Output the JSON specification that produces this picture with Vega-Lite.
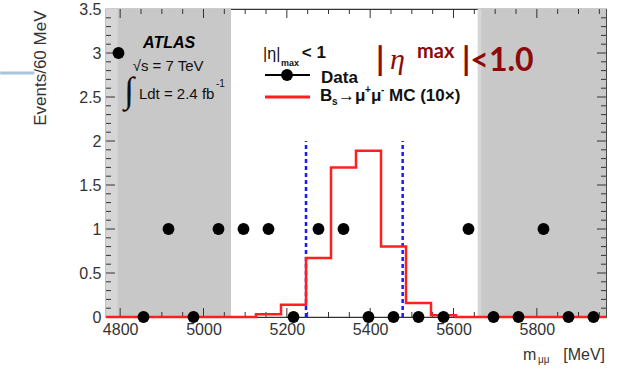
{
  "$schema": "https://vega.github.io/schema/vega-lite/v6.json",
  "width": 500,
  "height": 308,
  "autosize": {"type": "none"},
  "padding": {"left": 106, "top": 9, "right": 13, "bottom": 55},
  "background": "white",
  "config": {
    "view": {"stroke": "#333333", "strokeWidth": 1.2},
    "font": "Liberation Sans",
    "axis": {"grid": false, "domain": false, "ticks": false, "labelColor": "#333333"},
    "text": {"align": "left", "baseline": "alphabetic"}
  },
  "datasets": {
    "sidebands": [{"lo": 4766, "hi": 5066}, {"lo": 5666, "hi": 5966}],
    "edges": [{"lo": 4766, "hi": 4794}, {"lo": 5658, "hi": 5667}],
    "xTickMajor": [{"m": 4800}, {"m": 5000}, {"m": 5200}, {"m": 5400}, {"m": 5600}, {"m": 5800}],
    "xTickMinor": [
      {"m": 4850}, {"m": 4900}, {"m": 4950}, {"m": 5050}, {"m": 5100}, {"m": 5150}, {"m": 5250}, {"m": 5300},
      {"m": 5350}, {"m": 5450}, {"m": 5500}, {"m": 5550}, {"m": 5650}, {"m": 5700}, {"m": 5750}, {"m": 5850},
      {"m": 5900}, {"m": 5950}
    ],
    "yTickMajor": [{"v": 0.5}, {"v": 1}, {"v": 1.5}, {"v": 2}, {"v": 2.5}, {"v": 3}],
    "yTickMinor": [
      {"v": 0.1}, {"v": 0.2}, {"v": 0.3}, {"v": 0.4}, {"v": 0.6}, {"v": 0.7}, {"v": 0.8}, {"v": 0.9},
      {"v": 1.1}, {"v": 1.2}, {"v": 1.3}, {"v": 1.4}, {"v": 1.6}, {"v": 1.7}, {"v": 1.8}, {"v": 1.9},
      {"v": 2.1}, {"v": 2.2}, {"v": 2.3}, {"v": 2.4}, {"v": 2.6}, {"v": 2.7}, {"v": 2.8}, {"v": 2.9},
      {"v": 3.1}, {"v": 3.2}, {"v": 3.3}, {"v": 3.4}
    ],
    "window": [{"m": 5246}, {"m": 5478}],
    "mc": [
      {"m": 4766, "v": 0}, {"m": 4826, "v": 0}, {"m": 4886, "v": 0}, {"m": 4946, "v": 0},
      {"m": 5006, "v": 0}, {"m": 5066, "v": 0}, {"m": 5126, "v": 0.03}, {"m": 5186, "v": 0.14},
      {"m": 5246, "v": 0.67}, {"m": 5306, "v": 1.7}, {"m": 5366, "v": 1.89}, {"m": 5426, "v": 0.8},
      {"m": 5486, "v": 0.16}, {"m": 5546, "v": 0.02}, {"m": 5606, "v": 0}, {"m": 5666, "v": 0},
      {"m": 5726, "v": 0}, {"m": 5786, "v": 0}, {"m": 5846, "v": 0}, {"m": 5906, "v": 0},
      {"m": 5966, "v": 0}
    ],
    "events": [
      {"m": 4796, "n": 3}, {"m": 4856, "n": 0}, {"m": 4916, "n": 1}, {"m": 4976, "n": 0},
      {"m": 5036, "n": 1}, {"m": 5096, "n": 1}, {"m": 5156, "n": 1}, {"m": 5216, "n": 0},
      {"m": 5276, "n": 1}, {"m": 5336, "n": 1}, {"m": 5396, "n": 0}, {"m": 5456, "n": 0},
      {"m": 5516, "n": 0}, {"m": 5576, "n": 0}, {"m": 5636, "n": 1}, {"m": 5696, "n": 0},
      {"m": 5756, "n": 0}, {"m": 5816, "n": 1}, {"m": 5876, "n": 0}, {"m": 5936, "n": 0}
    ],
    "legendDataLine": [{"m": 5147.6, "m2": 5255.6, "v": 2.75}],
    "legendMcLine": [{"m": 5147.6, "m2": 5255.6, "v": 2.5}],
    "legendDot": [{"m": 5200.4, "v": 2.75}],
    "slideBar": [{"m": 4512, "m2": 4594, "v": 2.773}],
    "atlas": [{"t": "ATLAS", "m": 4855, "v": 3.06}],
    "info": [{"t": "√s = 7 TeV", "m": 4830, "v": 2.8}, {"t": "Ldt = 2.4 fb", "m": 4845, "v": 2.48}],
    "infoSup": [{"t": "-1", "m": 5030, "v": 2.61}],
    "integral": [{"t": "∫", "m": 4810, "v": 2.44}],
    "legPlain": [{"t": "|η|", "m": 5143, "v": 2.93}],
    "legTiny": [{"t": "max", "m": 5186, "v": 2.85}],
    "legBold": [
      {"t": "< 1", "m": 5236, "v": 2.94}, {"t": "Data", "m": 5282, "v": 2.66},
      {"t": "B", "m": 5279.6, "v": 2.455}, {"t": "→μ", "m": 5322.8, "v": 2.455},
      {"t": "μ", "m": 5402, "v": 2.455}, {"t": "MC (10×)", "m": 5445.2, "v": 2.455}
    ],
    "legScript": [
      {"t": "s", "m": 5308.4, "v": 2.41}, {"t": "+", "m": 5387.6, "v": 2.55}, {"t": "-", "m": 5426, "v": 2.55}
    ],
    "cutBar": [{"t": "|", "m": 5414, "v": 2.79}, {"t": "|<1.0", "m": 5620.4, "v": 2.79}],
    "cutEta": [{"t": "η", "m": 5447.6, "v": 2.82}],
    "cutMax": [{"t": "max", "m": 5512.4, "v": 2.94}],
    "xTitle": [{"t": "m", "m": 5766.8, "v": -0.49}],
    "xTitleSub": [{"t": "μμ", "m": 5802.8, "v": -0.525}],
    "xTitleUnit": [{"t": "[MeV]", "m": 5963.6, "v": -0.49}]
  },
  "resolve": {"axis": {"x": "independent", "y": "independent"}},
  "layer": [
    {
      "data": {"name": "sidebands"},
      "mark": {"type": "rect", "fill": "#c8c8c8"},
      "encoding": {
        "x": {"field": "lo", "type": "quantitative", "scale": {"domain": [4766, 5966], "nice": false, "zero": false}, "axis": null},
        "x2": {"field": "hi"},
        "y": {"datum": 0, "type": "quantitative", "scale": {"domain": [0, 3.5], "nice": false, "zero": false}, "axis": null},
        "y2": {"datum": 3.5}
      }
    },
    {
      "data": {"name": "edges"},
      "mark": {"type": "rect", "fill": "#d6d6d6"},
      "encoding": {
        "x": {"field": "lo", "type": "quantitative", "scale": {"domain": [4766, 5966], "nice": false, "zero": false}, "axis": null},
        "x2": {"field": "hi"},
        "y": {"datum": 0, "type": "quantitative", "scale": {"domain": [0, 3.5], "nice": false, "zero": false}, "axis": null},
        "y2": {"datum": 3.5}
      }
    },
    {
      "data": {"name": "xTickMajor"},
      "mark": {"type": "rule", "color": "#333333", "strokeWidth": 1, "strokeDash": [9, 290, 9, 60]},
      "encoding": {
        "x": {"field": "m", "type": "quantitative", "scale": {"domain": [4766, 5966], "nice": false, "zero": false}, "axis": null},
        "y": {"datum": 0, "type": "quantitative", "scale": {"domain": [0, 3.5], "nice": false, "zero": false}, "axis": null},
        "y2": {"datum": 3.5}
      }
    },
    {
      "data": {"name": "xTickMinor"},
      "mark": {"type": "rule", "color": "#333333", "strokeWidth": 1, "strokeDash": [5, 298, 5, 60]},
      "encoding": {
        "x": {"field": "m", "type": "quantitative", "scale": {"domain": [4766, 5966], "nice": false, "zero": false}, "axis": null},
        "y": {"datum": 0, "type": "quantitative", "scale": {"domain": [0, 3.5], "nice": false, "zero": false}, "axis": null},
        "y2": {"datum": 3.5}
      }
    },
    {
      "data": {"name": "yTickMajor"},
      "mark": {"type": "rule", "color": "#333333", "strokeWidth": 1, "strokeDash": [9, 482, 9, 60]},
      "encoding": {
        "y": {"field": "v", "type": "quantitative", "scale": {"domain": [0, 3.5], "nice": false, "zero": false}, "axis": null},
        "x": {"datum": 4766, "type": "quantitative", "scale": {"domain": [4766, 5966], "nice": false, "zero": false}, "axis": null},
        "x2": {"datum": 5966}
      }
    },
    {
      "data": {"name": "yTickMinor"},
      "mark": {"type": "rule", "color": "#333333", "strokeWidth": 1, "strokeDash": [5, 490, 5, 60]},
      "encoding": {
        "y": {"field": "v", "type": "quantitative", "scale": {"domain": [0, 3.5], "nice": false, "zero": false}, "axis": null},
        "x": {"datum": 4766, "type": "quantitative", "scale": {"domain": [4766, 5966], "nice": false, "zero": false}, "axis": null},
        "x2": {"datum": 5966}
      }
    },
    {
      "data": {"name": "window"},
      "mark": {"type": "rule", "color": "#1a1aff", "strokeWidth": 2.5, "strokeDash": [4, 3]},
      "encoding": {
        "x": {"field": "m", "type": "quantitative", "scale": {"domain": [4766, 5966], "nice": false, "zero": false}, "axis": null},
        "y": {"datum": 0, "type": "quantitative", "scale": {"domain": [0, 3.5], "nice": false, "zero": false}, "axis": null},
        "y2": {"datum": 2}
      }
    },
    {
      "data": {"name": "mc"},
      "mark": {"type": "line", "interpolate": "step-after", "color": "#ff1f1f", "strokeWidth": 2.5},
      "encoding": {
        "x": {"field": "m", "type": "quantitative", "scale": {"domain": [4766, 5966], "nice": false, "zero": false}, "axis": null},
        "y": {"field": "v", "type": "quantitative", "scale": {"domain": [0, 3.5], "nice": false, "zero": false}, "axis": null}
      }
    },
    {
      "data": {"name": "events"},
      "mark": {"type": "point", "shape": "circle", "filled": true, "color": "black", "opacity": 1, "size": 140},
      "encoding": {
        "x": {"field": "m", "type": "quantitative", "scale": {"domain": [4766, 5966], "nice": false, "zero": false},
              "axis": {"orient": "bottom", "values": [4800, 5000, 5200, 5400, 5600, 5800], "format": "d", "labelFontSize": 16, "labelPadding": 4, "title": null}},
        "y": {"field": "n", "type": "quantitative", "scale": {"domain": [0, 3.5], "nice": false, "zero": false},
              "axis": {"orient": "left", "values": [0, 0.5, 1, 1.5, 2, 2.5, 3, 3.5], "format": "~g", "labelFontSize": 16, "labelPadding": 5,
                       "title": "Events/60 MeV", "titleFontSize": 17, "titleFontWeight": "normal", "titleColor": "#333333",
                       "titleAngle": -90, "titleAlign": "right", "titleBaseline": "middle", "titleX": -66, "titleY": 1}}
      }
    },
    {
      "data": {"name": "legendDataLine"},
      "mark": {"type": "rule", "color": "black", "strokeWidth": 2},
      "encoding": {
        "x": {"field": "m", "type": "quantitative", "scale": {"domain": [4766, 5966], "nice": false, "zero": false}, "axis": null},
        "x2": {"field": "m2"},
        "y": {"field": "v", "type": "quantitative", "scale": {"domain": [0, 3.5], "nice": false, "zero": false}, "axis": null}
      }
    },
    {
      "data": {"name": "legendMcLine"},
      "mark": {"type": "rule", "color": "#ff1f1f", "strokeWidth": 3},
      "encoding": {
        "x": {"field": "m", "type": "quantitative", "scale": {"domain": [4766, 5966], "nice": false, "zero": false}, "axis": null},
        "x2": {"field": "m2"},
        "y": {"field": "v", "type": "quantitative", "scale": {"domain": [0, 3.5], "nice": false, "zero": false}, "axis": null}
      }
    },
    {
      "data": {"name": "legendDot"},
      "mark": {"type": "point", "shape": "circle", "filled": true, "color": "black", "opacity": 1, "size": 140},
      "encoding": {
        "x": {"field": "m", "type": "quantitative", "scale": {"domain": [4766, 5966], "nice": false, "zero": false}, "axis": null},
        "y": {"field": "v", "type": "quantitative", "scale": {"domain": [0, 3.5], "nice": false, "zero": false}, "axis": null}
      }
    },
    {
      "data": {"name": "slideBar"},
      "mark": {"type": "rule", "color": "#a9c4dc", "strokeWidth": 3},
      "encoding": {
        "x": {"field": "m", "type": "quantitative", "scale": {"domain": [4766, 5966], "nice": false, "zero": false}, "axis": null},
        "x2": {"field": "m2"},
        "y": {"field": "v", "type": "quantitative", "scale": {"domain": [0, 3.5], "nice": false, "zero": false}, "axis": null}
      }
    },
    {
      "data": {"name": "atlas"},
      "mark": {"type": "text", "fontSize": 16, "fontWeight": "bold", "fontStyle": "italic", "color": "black"},
      "encoding": {
        "x": {"field": "m", "type": "quantitative", "scale": {"domain": [4766, 5966], "nice": false, "zero": false}, "axis": null},
        "y": {"field": "v", "type": "quantitative", "scale": {"domain": [0, 3.5], "nice": false, "zero": false}, "axis": null},
        "text": {"field": "t"}
      }
    },
    {
      "data": {"name": "info"},
      "mark": {"type": "text", "fontSize": 15, "color": "#111111"},
      "encoding": {
        "x": {"field": "m", "type": "quantitative", "scale": {"domain": [4766, 5966], "nice": false, "zero": false}, "axis": null},
        "y": {"field": "v", "type": "quantitative", "scale": {"domain": [0, 3.5], "nice": false, "zero": false}, "axis": null},
        "text": {"field": "t"}
      }
    },
    {
      "data": {"name": "infoSup"},
      "mark": {"type": "text", "fontSize": 10, "color": "#111111"},
      "encoding": {
        "x": {"field": "m", "type": "quantitative", "scale": {"domain": [4766, 5966], "nice": false, "zero": false}, "axis": null},
        "y": {"field": "v", "type": "quantitative", "scale": {"domain": [0, 3.5], "nice": false, "zero": false}, "axis": null},
        "text": {"field": "t"}
      }
    },
    {
      "data": {"name": "integral"},
      "mark": {"type": "text", "fontSize": 36, "font": "DejaVu Sans", "fontWeight": 300, "color": "#111111"},
      "encoding": {
        "x": {"field": "m", "type": "quantitative", "scale": {"domain": [4766, 5966], "nice": false, "zero": false}, "axis": null},
        "y": {"field": "v", "type": "quantitative", "scale": {"domain": [0, 3.5], "nice": false, "zero": false}, "axis": null},
        "text": {"field": "t"}
      }
    },
    {
      "data": {"name": "legPlain"},
      "mark": {"type": "text", "fontSize": 16, "color": "#111111"},
      "encoding": {
        "x": {"field": "m", "type": "quantitative", "scale": {"domain": [4766, 5966], "nice": false, "zero": false}, "axis": null},
        "y": {"field": "v", "type": "quantitative", "scale": {"domain": [0, 3.5], "nice": false, "zero": false}, "axis": null},
        "text": {"field": "t"}
      }
    },
    {
      "data": {"name": "legTiny"},
      "mark": {"type": "text", "fontSize": 9, "fontWeight": "bold", "color": "#111111"},
      "encoding": {
        "x": {"field": "m", "type": "quantitative", "scale": {"domain": [4766, 5966], "nice": false, "zero": false}, "axis": null},
        "y": {"field": "v", "type": "quantitative", "scale": {"domain": [0, 3.5], "nice": false, "zero": false}, "axis": null},
        "text": {"field": "t"}
      }
    },
    {
      "data": {"name": "legBold"},
      "mark": {"type": "text", "fontSize": 17, "fontWeight": "bold", "color": "#111111"},
      "encoding": {
        "x": {"field": "m", "type": "quantitative", "scale": {"domain": [4766, 5966], "nice": false, "zero": false}, "axis": null},
        "y": {"field": "v", "type": "quantitative", "scale": {"domain": [0, 3.5], "nice": false, "zero": false}, "axis": null},
        "text": {"field": "t"}
      }
    },
    {
      "data": {"name": "legScript"},
      "mark": {"type": "text", "fontSize": 10, "fontWeight": "bold", "color": "#111111"},
      "encoding": {
        "x": {"field": "m", "type": "quantitative", "scale": {"domain": [4766, 5966], "nice": false, "zero": false}, "axis": null},
        "y": {"field": "v", "type": "quantitative", "scale": {"domain": [0, 3.5], "nice": false, "zero": false}, "axis": null},
        "text": {"field": "t"}
      }
    },
    {
      "data": {"name": "cutBar"},
      "mark": {"type": "text", "fontSize": 32, "font": "Lato", "fontWeight": "bold", "color": "#8b0a0a"},
      "encoding": {
        "x": {"field": "m", "type": "quantitative", "scale": {"domain": [4766, 5966], "nice": false, "zero": false}, "axis": null},
        "y": {"field": "v", "type": "quantitative", "scale": {"domain": [0, 3.5], "nice": false, "zero": false}, "axis": null},
        "text": {"field": "t"}
      }
    },
    {
      "data": {"name": "cutEta"},
      "mark": {"type": "text", "fontSize": 30, "font": "Liberation Serif", "fontStyle": "italic", "color": "#8b0a0a"},
      "encoding": {
        "x": {"field": "m", "type": "quantitative", "scale": {"domain": [4766, 5966], "nice": false, "zero": false}, "axis": null},
        "y": {"field": "v", "type": "quantitative", "scale": {"domain": [0, 3.5], "nice": false, "zero": false}, "axis": null},
        "text": {"field": "t"}
      }
    },
    {
      "data": {"name": "cutMax"},
      "mark": {"type": "text", "fontSize": 20, "font": "Lato", "fontWeight": "bold", "color": "#8b0a0a"},
      "encoding": {
        "x": {"field": "m", "type": "quantitative", "scale": {"domain": [4766, 5966], "nice": false, "zero": false}, "axis": null},
        "y": {"field": "v", "type": "quantitative", "scale": {"domain": [0, 3.5], "nice": false, "zero": false}, "axis": null},
        "text": {"field": "t"}
      }
    },
    {
      "data": {"name": "xTitle"},
      "mark": {"type": "text", "fontSize": 16, "color": "#333333"},
      "encoding": {
        "x": {"field": "m", "type": "quantitative", "scale": {"domain": [4766, 5966], "nice": false, "zero": false}, "axis": null},
        "y": {"field": "v", "type": "quantitative", "scale": {"domain": [0, 3.5], "nice": false, "zero": false}, "axis": null},
        "text": {"field": "t"}
      }
    },
    {
      "data": {"name": "xTitleSub"},
      "mark": {"type": "text", "fontSize": 10, "color": "#333333"},
      "encoding": {
        "x": {"field": "m", "type": "quantitative", "scale": {"domain": [4766, 5966], "nice": false, "zero": false}, "axis": null},
        "y": {"field": "v", "type": "quantitative", "scale": {"domain": [0, 3.5], "nice": false, "zero": false}, "axis": null},
        "text": {"field": "t"}
      }
    },
    {
      "data": {"name": "xTitleUnit"},
      "mark": {"type": "text", "fontSize": 16, "color": "#333333", "align": "right"},
      "encoding": {
        "x": {"field": "m", "type": "quantitative", "scale": {"domain": [4766, 5966], "nice": false, "zero": false}, "axis": null},
        "y": {"field": "v", "type": "quantitative", "scale": {"domain": [0, 3.5], "nice": false, "zero": false}, "axis": null},
        "text": {"field": "t"}
      }
    }
  ]
}
